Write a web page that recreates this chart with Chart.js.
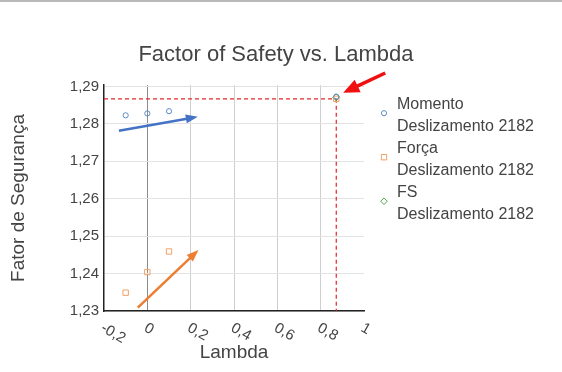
<!DOCTYPE html>
<html><head><meta charset="utf-8">
<script src="https://cdn.jsdelivr.net/npm/chart.js@4.4.1/dist/chart.umd.min.js"></script>
<style>
html,body{margin:0;padding:0;background:#fff;overflow:hidden}
#wrap{position:relative;width:562px;height:372px}
#topline{position:absolute;left:0;top:0;width:562px;height:2px;background:#b9b9b9}
canvas{display:block}
</style></head><body>
<div id="wrap"><canvas id="c" width="562" height="372"></canvas><div id="topline"></div></div>
<script>
const chartTitle = 'Factor of Safety vs. Lambda';
const xAxisTitle = 'Lambda';
const yAxisTitle = 'Fator de Segurança';
const xTickValues = [-0.2, 0, 0.2, 0.4, 0.6, 0.8, 1];
const yTickValues = [1.23, 1.24, 1.25, 1.26, 1.27, 1.28, 1.29];
const momentoLambda = [-0.1, 0, 0.1, 0.872];
const momentoFS = [1.2823, 1.2828, 1.2834, 1.2873];
const forcaLambda = [-0.1, 0, 0.1, 0.872];
const forcaFS = [1.2349, 1.2404, 1.2459, 1.2867];
const fsLambda = [0.872];
const fsValue = [1.2871];
const seriesNames = [['Momento', 'Deslizamento 2182'], ['Força', 'Deslizamento 2182'], ['FS', 'Deslizamento 2182']];
const blueArrow = [[-0.131, 1.2782], [0.233, 1.2819]];
const orangeArrow = [[-0.044, 1.2309], [0.236, 1.2463]];
const redArrow = [[1.098, 1.2936], [0.904, 1.2883]];

const FONT = "'Liberation Sans', Arial, sans-serif";
const TXT = '#444';
Chart.defaults.font.family = FONT;

function pts(xs, ys) { return xs.map((x, i) => ({ x: x, y: ys[i] })); }
function fmtX(v) { return String(Math.round(v * 10) / 10).replace('.', ','); }
function fmtY(v) { return v.toFixed(2).replace('.', ','); }

function drawMarker(ctx, style, x, y, r, color) {
  ctx.save();
  ctx.strokeStyle = color; ctx.lineWidth = 1;
  ctx.beginPath();
  if (style === 'circle') ctx.arc(x, y, r, 0, Math.PI * 2);
  else if (style === 'rect') ctx.rect(x - r, y - r, 2 * r, 2 * r);
  else { ctx.moveTo(x, y - r); ctx.lineTo(x + r, y); ctx.lineTo(x, y + r); ctx.lineTo(x - r, y); ctx.closePath(); }
  ctx.stroke();
  ctx.restore();
}

function drawArrow(ctx, xs, ys, a, color, lw, headLen, headW) {
  const x1 = xs.getPixelForValue(a[0][0]), y1 = ys.getPixelForValue(a[0][1]);
  const x2 = xs.getPixelForValue(a[1][0]), y2 = ys.getPixelForValue(a[1][1]);
  const ang = Math.atan2(y2 - y1, x2 - x1);
  const bx = x2 - headLen * Math.cos(ang), by = y2 - headLen * Math.sin(ang);
  ctx.save();
  ctx.strokeStyle = color; ctx.fillStyle = color; ctx.lineWidth = lw; ctx.lineCap = 'butt';
  ctx.beginPath(); ctx.moveTo(x1, y1); ctx.lineTo(bx + Math.cos(ang), by + Math.sin(ang)); ctx.stroke();
  const px = -Math.sin(ang), py = Math.cos(ang);
  ctx.beginPath();
  ctx.moveTo(x2, y2);
  ctx.lineTo(bx + px * headW / 2, by + py * headW / 2);
  ctx.lineTo(bx - px * headW / 2, by - py * headW / 2);
  ctx.closePath(); ctx.fill();
  ctx.restore();
}

const extras = {
  id: 'extras',
  beforeDatasetsDraw(chart) {
    const { ctx, scales: { x, y } } = chart;
    const fx = x.getPixelForValue(fsLambda[0]), fy = y.getPixelForValue(fsValue[0]) + 1.5;
    ctx.save();
    ctx.strokeStyle = '#e3262a'; ctx.lineWidth = 1.2; ctx.setLineDash([4, 3]);
    ctx.beginPath(); ctx.moveTo(x.left, fy); ctx.lineTo(fx, fy); ctx.stroke();
    ctx.beginPath(); ctx.moveTo(fx, fy); ctx.lineTo(fx, y.bottom); ctx.stroke();
    ctx.restore();
  },
  afterDatasetsDraw(chart) {
    const { ctx, scales: { x, y } } = chart;
    drawArrow(ctx, x, y, blueArrow, '#4472c4', 2.5, 12, 9);
    drawArrow(ctx, x, y, orangeArrow, '#ed7d31', 2.5, 12, 9);
    drawArrow(ctx, x, y, redArrow, '#f01010', 3.5, 16, 14);
  },
  afterDraw(chart) {
    const { ctx, scales: { x, y } } = chart;
    ctx.save();
    // title
    ctx.fillStyle = TXT; ctx.font = '22px ' + FONT;
    ctx.textAlign = 'center'; ctx.textBaseline = 'middle';
    ctx.fillText(chartTitle, 276, 55);
    // x tick labels rotated
    ctx.font = '15px ' + FONT; ctx.textAlign = 'left'; ctx.textBaseline = 'middle';
    xTickValues.forEach(v => {
      const px = x.getPixelForValue(v);
      ctx.save();
      ctx.translate(px - 2, y.bottom + 16);
      ctx.rotate(30 * Math.PI / 180);
      ctx.fillText(fmtX(v), 0, 0);
      ctx.restore();
    });
    // legend
    ctx.font = '16px ' + FONT; ctx.textBaseline = 'alphabetic'; ctx.textAlign = 'left';
    chart.data.datasets.forEach((ds, i) => {
      const top = 108.7 + i * 44;
      drawMarker(ctx, ds.legendStyle, 384, top + 4.5, ds.legendR, ds.borderColor);
      ctx.fillStyle = TXT;
      seriesNames[i].forEach((line, j) => ctx.fillText(line, 397, top + j * 22));
    });
    ctx.restore();
  }
};

new Chart(document.getElementById('c'), {
  type: 'scatter',
  data: {
    datasets: [
      { label: seriesNames[0].join(' '), data: pts(momentoLambda, momentoFS), pointStyle: 'circle', pointRadius: 2.6,
        borderColor: '#5b8cc8', backgroundColor: 'rgba(0,0,0,0)', borderWidth: 1, legendStyle: 'circle', legendR: 2.6 },
      { label: seriesNames[1].join(' '), data: pts(forcaLambda, forcaFS), pointStyle: 'rect', pointRadius: 3.8,
        borderColor: '#f2a165', backgroundColor: 'rgba(0,0,0,0)', borderWidth: 1, legendStyle: 'rect', legendR: 2.7 },
      { label: seriesNames[2].join(' '), data: pts(fsLambda, fsValue), pointStyle: 'rectRot', pointRadius: 3.5,
        borderColor: '#4aa84a', backgroundColor: 'rgba(0,0,0,0)', borderWidth: 1, legendStyle: 'diamond', legendR: 3.3 }
    ]
  },
  options: {
    responsive: false, animation: false,
    layout: { padding: { left: 0, right: 198, top: 85, bottom: 0 } },
    plugins: { legend: { display: false }, title: { display: false }, tooltip: { enabled: false } },
    scales: {
      x: {
        type: 'linear', min: -0.2, max: 1,
        afterBuildTicks(s) { s.ticks = xTickValues.map(v => ({ value: v })); },
        afterFit(s) { s.height = 61; },
        ticks: { display: false },
        grid: { drawTicks: false, lineWidth: 1,
          color: c => { const v = c.tick ? Math.round(c.tick.value * 10) / 10 : null;
            if (v === 0) return '#8c8c8c'; if (v === 1 || v === -0.2) return 'rgba(0,0,0,0)'; return '#cfcfcf'; } },
        border: { display: true, color: '#222', width: 1.5 },
        title: { display: true, text: xAxisTitle, color: TXT, font: { size: 19 }, padding: { top: 0, bottom: 8 } }
      },
      y: {
        type: 'linear', min: 1.23, max: 1.2904,
        afterBuildTicks(s) { s.ticks = yTickValues.map(v => ({ value: v })); },
        afterFit(s) { s.width = 104; },
        ticks: { color: TXT, font: { size: 15 }, padding: 5, callback: v => fmtY(v) },
        grid: { drawTicks: false, color: '#e3e3e3', lineWidth: 1 },
        border: { display: true, color: '#222', width: 1.5 },
        title: { display: true, text: yAxisTitle, color: TXT, font: { size: 19 }, padding: { top: 7, bottom: 0 } }
      }
    }
  },
  plugins: [extras]
});
</script></body></html>
